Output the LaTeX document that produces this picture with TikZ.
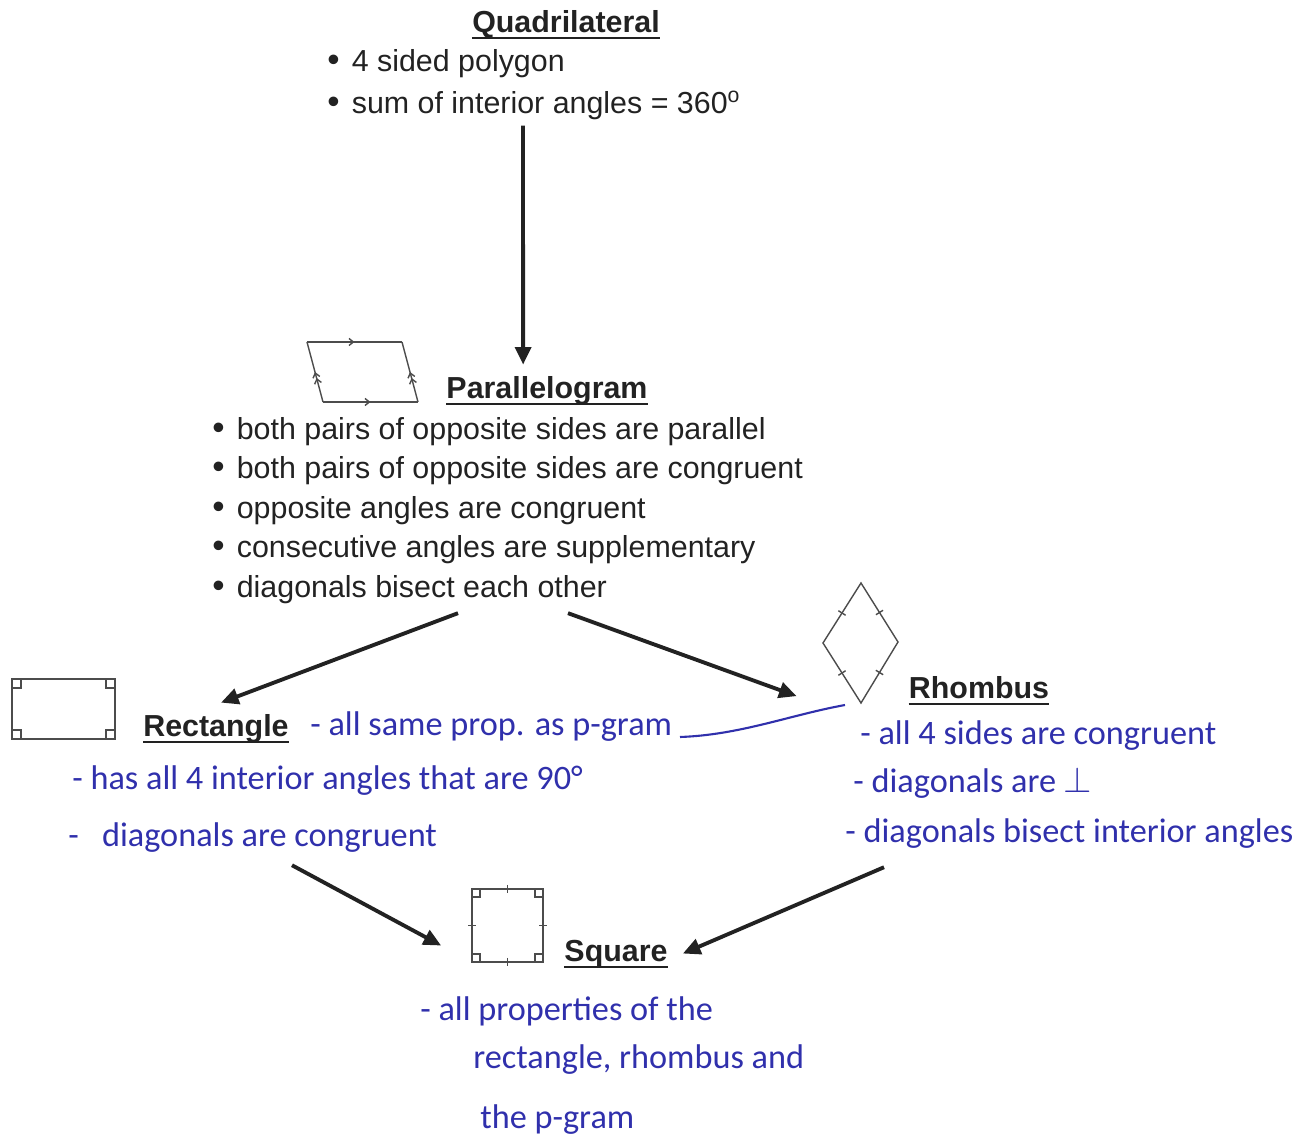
\documentclass[tikz,border=0pt]{standalone}
\usepackage{fontspec}
\setmainfont{Liberation Sans}
\newfontfamily\handfont{Carlito}
\usetikzlibrary{positioning,calc,arrows.meta,decorations.markings}

\definecolor{ink}{RGB}{48,48,172}
\definecolor{print}{RGB}{34,34,34}

\newcommand{\blt}{{\fontsize{20}{20}\selectfont\textbullet}\hspace{0.4em}}

\tikzset{%
  title/.style={
    font=\bfseries\fontsize{17.3}{20}\selectfont,
    text=print,
    inner sep=0pt,
    anchor=base
  },
  fact/.style={
    font=\fontsize{17.3}{20}\selectfont,
    text=print,
    inner sep=0pt,
    anchor=base west
  },
  note/.style={
    font=\handfont\fontsize{19.5}{22}\selectfont,
    text=ink,
    inner sep=0pt,
    anchor=base west
  },
  uline/.style={line width=1.3pt, print},
  figline/.style={line width=0.8pt, black!70},
  link/.style={
    -{Triangle[length=10pt,width=9pt]},
    line width=2.2pt,
    print
  },
  mid arrow/.style={
    postaction={decorate},
    decoration={markings, mark=at position 0.5 with {\arrow{Straight Barb[length=2.5pt,width=4pt]}}}
  },
  mid double/.style={
    postaction={decorate},
    decoration={markings, mark=at position 0.5 with {\arrow{Straight Barb[length=2.5pt,width=4pt]Straight Barb[length=2.5pt,width=4pt]}}}
  },
}

\begin{document}
\begin{tikzpicture}[x=0.02cm,y=-0.02cm]
\useasboundingbox (0,0) rectangle (1313,1148);

% titles
\node[title] (qtitle) at (566,33) {Quadrilateral};
\node[title] (ptitle) at (547,399) {Parallelogram};
\node[title] (rtitle) at (216,737) {Rectangle};
\node[title] (htitle) at (979,699) {Rhombus};
\node[title] (stitle) at (616,962) {Square};
\foreach \t in {qtitle,ptitle,rtitle,htitle,stitle}
  \draw[uline] ($(\t.base west)+(0,5)$) -- ($(\t.base east)+(0,5)$);

% printed facts
\node[fact] (qfact1) at (327,72) {\blt 4 sided polygon};
\node[fact] (qfact2) at (327,114) {\blt sum of interior angles = 360\textsuperscript{o}};
\foreach \txt [count=\i] in {both pairs of opposite sides are parallel,
    both pairs of opposite sides are congruent,
    opposite angles are congruent,
    consecutive angles are supplementary,
    diagonals bisect each other}
  \node[fact] (pfact\i) at (212,439.5+39.5*\i-39.5) {\blt\txt};

% handwritten notes
\node[note] (rnote0) at (310,736) {- all same prop. as p-gram};
\node[note] (rnote1) at (72,790) {- has all 4 interior angles that are 90°};
\node[note] (rnote2) at (68,847) {-\ \ \ diagonals are congruent};
\node[note] (hnote1) at (860,745) {- all 4 sides are congruent};
\node[note] (hnote2) at (853,793) {- diagonals are $\perp$};
\node[note] (hnote3) at (845,843) {- diagonals bisect interior angles};
\node[note] (snote1) at (420,1020) {- all properties of the};
\node[note] (snote2) at (473,1068) {rectangle, rhombus and};
\node[note] (snote3) at (480,1128) {the p-gram};

% parallelogram
\draw[figline, mid arrow] (307,342) -- (402,342);
\draw[figline, mid arrow] (323,402) -- (418,402);
\draw[figline, mid double] (323,402) -- (307,342);
\draw[figline, mid double] (418,402) -- (402,342);

% rectangle
\draw[figline] (12,679) rectangle (115,739);
\foreach \cx/\cy/\sx/\sy in {12/679/1/1, 115/679/-1/1, 115/739/-1/-1, 12/739/1/-1}
  \draw[figline] (\cx,\cy) rectangle ++(9*\sx,9*\sy);

% rhombus
\coordinate (rt) at (861,583);
\coordinate (rr) at (898,642);
\coordinate (rb) at (861,703);
\coordinate (rl) at (823,643);
\draw[figline] (rt) -- (rr) -- (rb) -- (rl) -- cycle;
\foreach \a/\b in {rt/rl, rt/rr, rb/rr, rb/rl}
  \draw[figline] ($(\a)!0.5!(\b)!0.12!90:(\b)$) -- ($(\a)!0.5!(\b)!0.12!-90:(\b)$);

% square
\draw[figline] (472,889) rectangle (543,962);
\foreach \cx/\cy/\sx/\sy in {472/889/1/1, 543/889/-1/1, 543/962/-1/-1, 472/962/1/-1}
  \draw[figline] (\cx,\cy) rectangle ++(8*\sx,8*\sy);
\draw[figline] (507.5,885) -- (507.5,893) (507.5,958) -- (507.5,966)
  (468,925.5) -- (476,925.5) (539,925.5) -- (547,925.5);

% arrows
\draw[link] ($(qfact2.south west)+(196,5)$) -- ($(ptitle.north west)+(77,-12)$);
\draw[link] ($(pfact5.south west)+(246,9)$) -- ($(rtitle.north west)+(78,-12)$);
\draw[link] ($(pfact5.south west)+(356,9)$) -- ($(htitle.west)+(-112,8)$);
\draw[link] ($(rnote2.south west)+(224,12)$) -- ($(stitle.west)+(-123,-9)$);
\draw[link] ($(hnote3.south west)+(39,18)$) -- ($(stitle.east)+(15,-1)$);

% ink line
\draw[ink, line width=1.2pt] ($(rnote0.base west)+(370,1)$)
  .. controls +(60,-2) and +(-55,10) .. ($(rb)+(-16,2)$);
\end{tikzpicture}
\end{document}
